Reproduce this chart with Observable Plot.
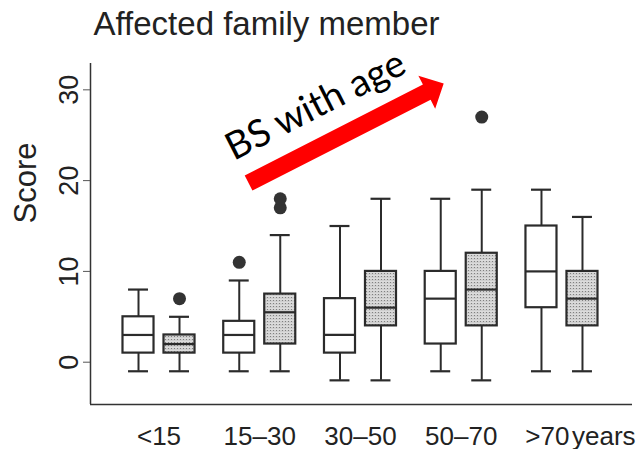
<!DOCTYPE html>
<html>
<head>
<meta charset="utf-8">
<script src="https://cdn.jsdelivr.net/npm/d3@7"></script>
<script src="https://cdn.jsdelivr.net/npm/@observablehq/plot@0.6"></script>
<style>
  html, body { margin: 0; padding: 0; background: #fff; }
  #chart { width: 643px; height: 449px; }
</style>
</head>
<body>
<div id="chart"></div>
<script>
// ---- data ----
const title = "Affected family member";
const yLabel = "Score";
const ageGroups = ["<15", "15–30", "30–50", "50–70", ">70"];
const unitLabel = "years";
const yTicks = [0, 10, 20, 30];
// box statistics per age group: [lower whisker, Q1, median, Q3, upper whisker]
const whiteStats = [
  [-1, 1, 3, 5, 8],
  [-1, 1, 3, 4.5, 9],
  [-2, 1, 3, 7, 15],
  [-1, 2, 7, 10, 18],
  [-1, 6, 10, 15, 19]
];
const grayStats = [
  [-1, 1, 2, 3, 5],
  [-1, 2, 5.5, 7.5, 14],
  [-2, 4, 6, 10, 18],
  [-2, 4, 8, 12, 19],
  [-1, 4, 7, 10, 16]
];
// outliers: [age group, score]
const whiteOutliers = [["15–30", 11]];
const grayOutliers = [["<15", 7], ["15–30", 17], ["15–30", 18], ["50–70", 27]];
const annotationText = "BS with age";

// ---- layout helpers ----
const off = 0.2035, boxHalf = 0.154, capHalf = 0.099;
const xDomain = [-0.68, 4.70];
const yDomain = [-4.66, 32.9];

function rows(stats, side) {
  return stats.map((s, i) => ({
    group: ageGroups[i], x: i + side * off,
    lo: s[0], q1: s[1], med: s[2], q3: s[3], hi: s[4]
  }));
}
const white = rows(whiteStats, -1);
const gray = rows(grayStats, +1);
const boxes = [...white.map(d => ({...d, kind: "white"})), ...gray.map(d => ({...d, kind: "gray"}))];
const outliers = [
  ...whiteOutliers.map(([g, v]) => ({x: ageGroups.indexOf(g) - off, y: v})),
  ...grayOutliers.map(([g, v]) => ({x: ageGroups.indexOf(g) + off, y: v}))
];
const labelRows = ageGroups.map((g, i) => ({g, i}));

const arrowShape = {
  draw(context, l) {
    const hw = 8.5, hl = 19, hb = 18.5;
    context.moveTo(-hw, 0);
    context.lineTo(-hw, -(l - hl));
    context.lineTo(-hb, -(l - hl));
    context.lineTo(0, -l);
    context.lineTo(hb, -(l - hl));
    context.lineTo(hw, -(l - hl));
    context.lineTo(hw, 0);
    context.closePath();
  }
};

const ink = "#2b2b2b";
const svg = Plot.plot({
  width: 643, height: 449,
  marginLeft: 90, marginRight: 11, marginTop: 63, marginBottom: 45,
  x: {domain: xDomain, axis: null},
  y: {domain: yDomain, axis: null},
  style: {fontFamily: "'Liberation Sans', Arial, sans-serif", color: "#222", background: "#fff"},
  marks: [
    // axis lines
    Plot.ruleX([xDomain[0]], {stroke: "#333", strokeWidth: 1.5}),
    Plot.ruleY([yDomain[0]], {stroke: "#333", strokeWidth: 1.5}),
    Plot.axisY({ticks: yTicks, tickSize: 7, tickRotate: -90, tickPadding: 6, fontSize: 27, label: null, stroke: "#555", fill: "#222"}),
    // whiskers
    Plot.ruleX(boxes, {x: "x", y1: "lo", y2: "hi", stroke: ink, strokeWidth: 2}),
    Plot.ruleY(boxes, {y: "lo", x1: d => d.x - capHalf, x2: d => d.x + capHalf, stroke: ink, strokeWidth: 2.2}),
    Plot.ruleY(boxes, {y: "hi", x1: d => d.x - capHalf, x2: d => d.x + capHalf, stroke: ink, strokeWidth: 2.2}),
    // boxes
    Plot.rect(boxes, {x1: d => d.x - boxHalf, x2: d => d.x + boxHalf, y1: "q1", y2: "q3",
      fill: d => d.kind === "white" ? "#fff" : "url(#stipple)", stroke: ink, strokeWidth: 2.2}),
    Plot.ruleY(boxes, {y: "med", x1: d => d.x - boxHalf, x2: d => d.x + boxHalf, stroke: ink, strokeWidth: 2.2}),
    // outliers
    Plot.dot(outliers, {x: "x", y: "y", r: 6.5, fill: "#333", stroke: "none"}),
    // x labels
    Plot.text(labelRows.slice(0, 4), {x: "i", text: "g", frameAnchor: "bottom", dy: 40, lineAnchor: "bottom", fontSize: 26}),
    Plot.text(labelRows.slice(4), {x: "i", text: "g", frameAnchor: "bottom", dy: 40, dx: 7.5, textAnchor: "end", lineAnchor: "bottom", fontSize: 26}),
    Plot.text(labelRows.slice(4), {x: "i", text: () => unitLabel, frameAnchor: "bottom", dy: 40, dx: 10, textAnchor: "start", lineAnchor: "bottom", fontSize: 26}),
    // y label
    Plot.text([yLabel], {frameAnchor: "left", text: d => d, rotate: -90, dx: -64.5, dy: -10.5, fontSize: 31}),
    // title
    Plot.text([title], {frameAnchor: "top-left", text: d => d, dx: 3, dy: -29, textAnchor: "start", lineAnchor: "bottom", fontSize: 33}),
    // annotation arrow + text
    Plot.vector([{x: 0.889, y: 19.74}], {x: "x", y: "y", length: 219, rotate: 63, anchor: "start", shape: arrowShape, fill: "#ff0000", stroke: "none"}),
    Plot.text([{x: 1.554, y: 28.27, t: annotationText}], {x: "x", y: "y", text: "t", rotate: -27, fontSize: 38, fontFamily: "Lato, 'Open Sans', sans-serif", fill: "#000"})
  ]
});

// stipple pattern for the shaded boxes
const defs = d3.select(svg).insert("defs", ":first-child");
const pat = defs.append("pattern").attr("id", "stipple").attr("patternUnits", "userSpaceOnUse").attr("width", 3).attr("height", 3);
pat.append("rect").attr("width", 3).attr("height", 3).attr("fill", "#cfcfcf");
pat.append("rect").attr("x", 0).attr("y", 0).attr("width", 1).attr("height", 1).attr("fill", "#808080");
pat.append("rect").attr("x", 0).attr("y", 2).attr("width", 3).attr("height", 0.6).attr("fill", "#e6e6e6");

document.getElementById("chart").append(svg);
</script>
</body>
</html>
